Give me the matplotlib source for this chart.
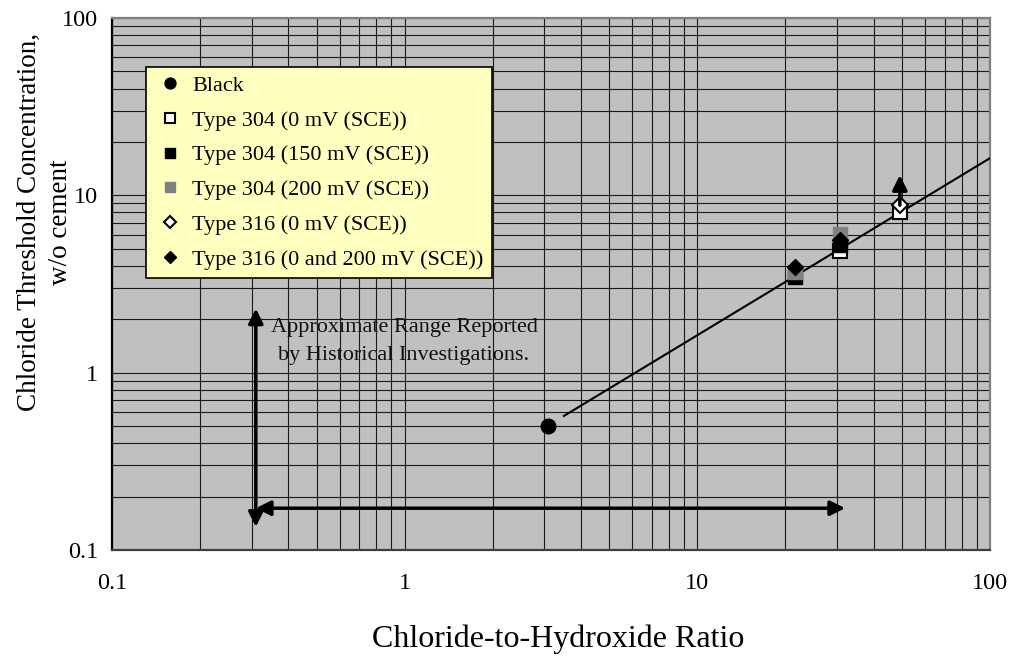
import matplotlib
matplotlib.use("Agg")
import matplotlib.pyplot as plt
from matplotlib.ticker import LogLocator, FixedLocator, NullFormatter, FixedFormatter

plt.rcParams['font.family'] = ['Liberation Serif', 'DejaVu Serif']

# measured points (ratio, threshold)
black_x = [3.1]
black_y = [0.50]
t304_0_x = [30.7, 49.2]
t304_0_y = [4.85, 8.05]
t304_150_x = [21.5, 30.7]
t304_150_y = [3.45, 5.25]
t304_200_x = [21.5, 30.7]
t304_200_y = [3.70, 6.05]
t316_0_x = [49.2]
t316_0_y = [8.8]
t316_x = [21.5, 30.7]
t316_y = [3.95, 5.6]

# greater-than arrow on the 50 point
gt_x = 49.2
gt_from = 8.8
gt_to = 13.0

# fitted line
trend_x = [3.5, 100]
trend_y = [0.57, 16.2]

# historical range
hist_x = [0.31, 32]
hist_y = [0.135, 2.3]
hist_level = 0.172

ticks = [0.1, 1, 10, 100]
tick_labels = ["0.1", "1", "10", "100"]

fig = plt.figure(figsize=(10.11, 6.56), dpi=100)
ax = fig.add_axes([0.1108, 0.1616, 0.8684, 0.811])
ax.set_facecolor('#c0c0c0')
ax.set_xscale('log')
ax.set_yscale('log')
ax.set_xlim(0.1, 100)
ax.set_ylim(0.1, 100)

ax.xaxis.set_major_locator(FixedLocator(ticks))
ax.yaxis.set_major_locator(FixedLocator(ticks))
ax.xaxis.set_major_formatter(FixedFormatter(tick_labels))
ax.yaxis.set_major_formatter(FixedFormatter(tick_labels))
ax.xaxis.set_minor_locator(LogLocator(base=10, subs=range(2, 10)))
ax.yaxis.set_minor_locator(LogLocator(base=10, subs=range(2, 10)))
ax.xaxis.set_minor_formatter(NullFormatter())
ax.yaxis.set_minor_formatter(NullFormatter())
ax.grid(True, which='both', color='#1a1a1a', lw=0.8)
ax.set_axisbelow(True)
ax.tick_params(which='both', length=0)
ax.tick_params(axis='x', labelsize=17.5, pad=16.5)
ax.tick_params(axis='y', labelsize=17.5, pad=10)

ax.spines['left'].set_color('black')
ax.spines['bottom'].set_color('#404040')
ax.spines['top'].set_color('#808080')
ax.spines['right'].set_color('#808080')
for s in ax.spines.values():
    s.set_linewidth(1.6)

ax.plot(trend_x, trend_y, color='black', lw=1.5, zorder=3)

ax.plot(black_x, black_y, 'o', color='black', ms=10.5, ls='none', zorder=4, label='Black')
ax.plot(t304_0_x, t304_0_y, 's', mfc='white', mec='black', mew=1.5, ms=9.5, ls='none', zorder=4,
        label='Type 304 (0 mV (SCE))')
ax.plot(t304_150_x, t304_150_y, 's', color='black', ms=9.5, ls='none', zorder=4,
        label='Type 304 (150 mV (SCE))')
ax.plot(t304_200_x, t304_200_y, 's', color='#808080', ms=9.5, ls='none', zorder=4,
        label='Type 304 (200 mV (SCE))')
ax.plot(t316_0_x, t316_0_y, 'D', mfc='white', mec='black', mew=1.5, ms=8, ls='none', zorder=4,
        label='Type 316 (0 mV (SCE))')
ax.plot(t316_x, t316_y, 'D', color='black', ms=8.5, ls='none', zorder=4,
        label='Type 316 (0 and 200 mV (SCE))')

ax.annotate('', xy=(gt_x, gt_to), xytext=(gt_x, gt_from),
            arrowprops=dict(arrowstyle='-|>', color='black', lw=2.5, mutation_scale=22,
                            shrinkA=0, shrinkB=0), zorder=5)

ax.annotate('', xy=(hist_x[0], hist_y[1]), xytext=(hist_x[0], hist_y[0]),
            arrowprops=dict(arrowstyle='<|-|>', color='black', lw=2.5, mutation_scale=22,
                            shrinkA=0, shrinkB=0), zorder=5)
ax.annotate('', xy=(hist_x[1], hist_level), xytext=(hist_x[0], hist_level),
            arrowprops=dict(arrowstyle='<|-|>', color='black', lw=2.5, mutation_scale=22,
                            shrinkA=0, shrinkB=0), zorder=5)
ax.text(0.995, 1.50, "Approximate Range Reported\nby Historical Investigations.",
        ha='center', va='center', fontsize=16, linespacing=1.62, color='#111111', zorder=5)

leg = ax.legend(loc='upper left', bbox_to_anchor=(0.0387, 0.908), borderaxespad=0,
                fontsize=16, frameon=True, fancybox=False, facecolor='#ffffc0',
                edgecolor='black', framealpha=1, handlelength=1.4, handletextpad=0.3,
                labelspacing=0.64, borderpad=0.38, markerscale=0.75)
leg.get_frame().set_linewidth(1.2)
leg.set_zorder(6)

# axis titles placed as figure text
fig.text(558 / 1011, 1 - 639 / 656, "Chloride-to-Hydroxide Ratio",
         ha='center', va='center', fontsize=23)
fig.text(0.0445, 1 - 222 / 656, "Chloride Threshold Concentration,\nw/o cement",
         rotation=90, ha='center', va='center', multialignment='center',
         fontsize=19.5, linespacing=1.3)

fig.savefig("out.png", dpi=100)
